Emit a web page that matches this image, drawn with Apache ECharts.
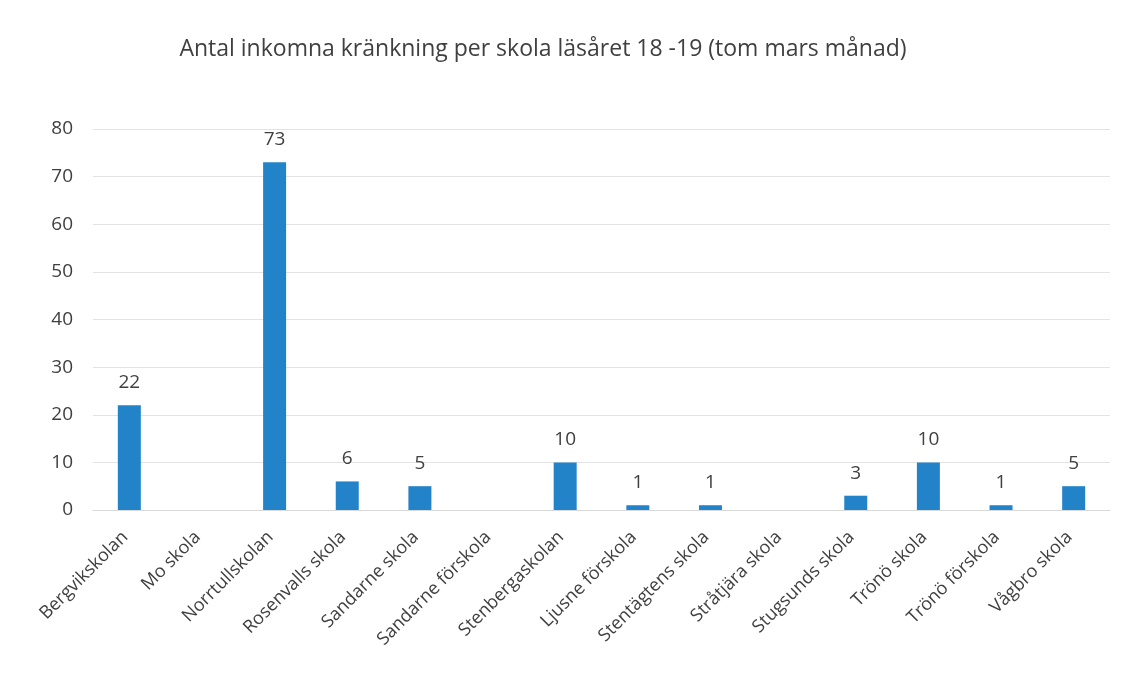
<!DOCTYPE html>
<html><head><meta charset="utf-8">
<script src="https://cdn.jsdelivr.net/npm/echarts@6/dist/echarts.min.js"></script>
<style>html,body{margin:0;padding:0;background:#fff}#c{width:1132px;height:680px}</style>
</head><body><div id="c"></div>
<script>
const categories = ['Bergvikskolan','Mo skola','Norrtullskolan','Rosenvalls skola','Sandarne skola','Sandarne förskola','Stenbergaskolan','Ljusne förskola','Stentägtens skola','Stråtjära skola','Stugsunds skola','Trönö skola','Trönö förskola','Vågbro skola'];
const values = [22,0,73,6,5,0,10,1,1,0,3,10,1,5];
const titleText = 'Antal inkomna kränkning per skola läsåret 18 -19 (tom mars månad)';
const FONT = '"Open Sans", "Noto Sans", sans-serif';
const chart = echarts.init(document.getElementById('c'));
chart.setOption({
  backgroundColor: '#fff',
  animation: false,
  title: { text: titleText, left: 538, top: 33, textAlign: 'center',
    textStyle: { fontFamily: FONT, fontSize: 23, fontWeight: 'normal', color: '#404040' } },
  grid: { left: 93, right: 22, top: 129, bottom: 170 },
  xAxis: { type: 'category', data: categories,
    axisLine: { lineStyle: { color: '#d9d9d9' } }, axisTick: { show: false },
    axisLabel: { rotate: 45, interval: 0, margin: 20, padding: [0, 6, 0, 0], fontFamily: FONT, fontSize: 18, color: '#404040' } },
  yAxis: { type: 'value', min: 0, max: 80, interval: 10,
    axisLine: { show: false }, axisTick: { show: false },
    splitLine: { lineStyle: { color: '#e3e3e3' } },
    axisLabel: { margin: 20, fontFamily: FONT, fontSize: 19, color: '#404040' } },
  series: [{ type: 'bar', data: values, barWidth: 23,
    itemStyle: { color: '#2383c9' },
    label: { show: true, position: 'top', distance: 13, fontFamily: FONT, fontSize: 19, color: '#404040',
      formatter: p => p.value === 0 ? '' : p.value } }]
});
</script></body></html>
